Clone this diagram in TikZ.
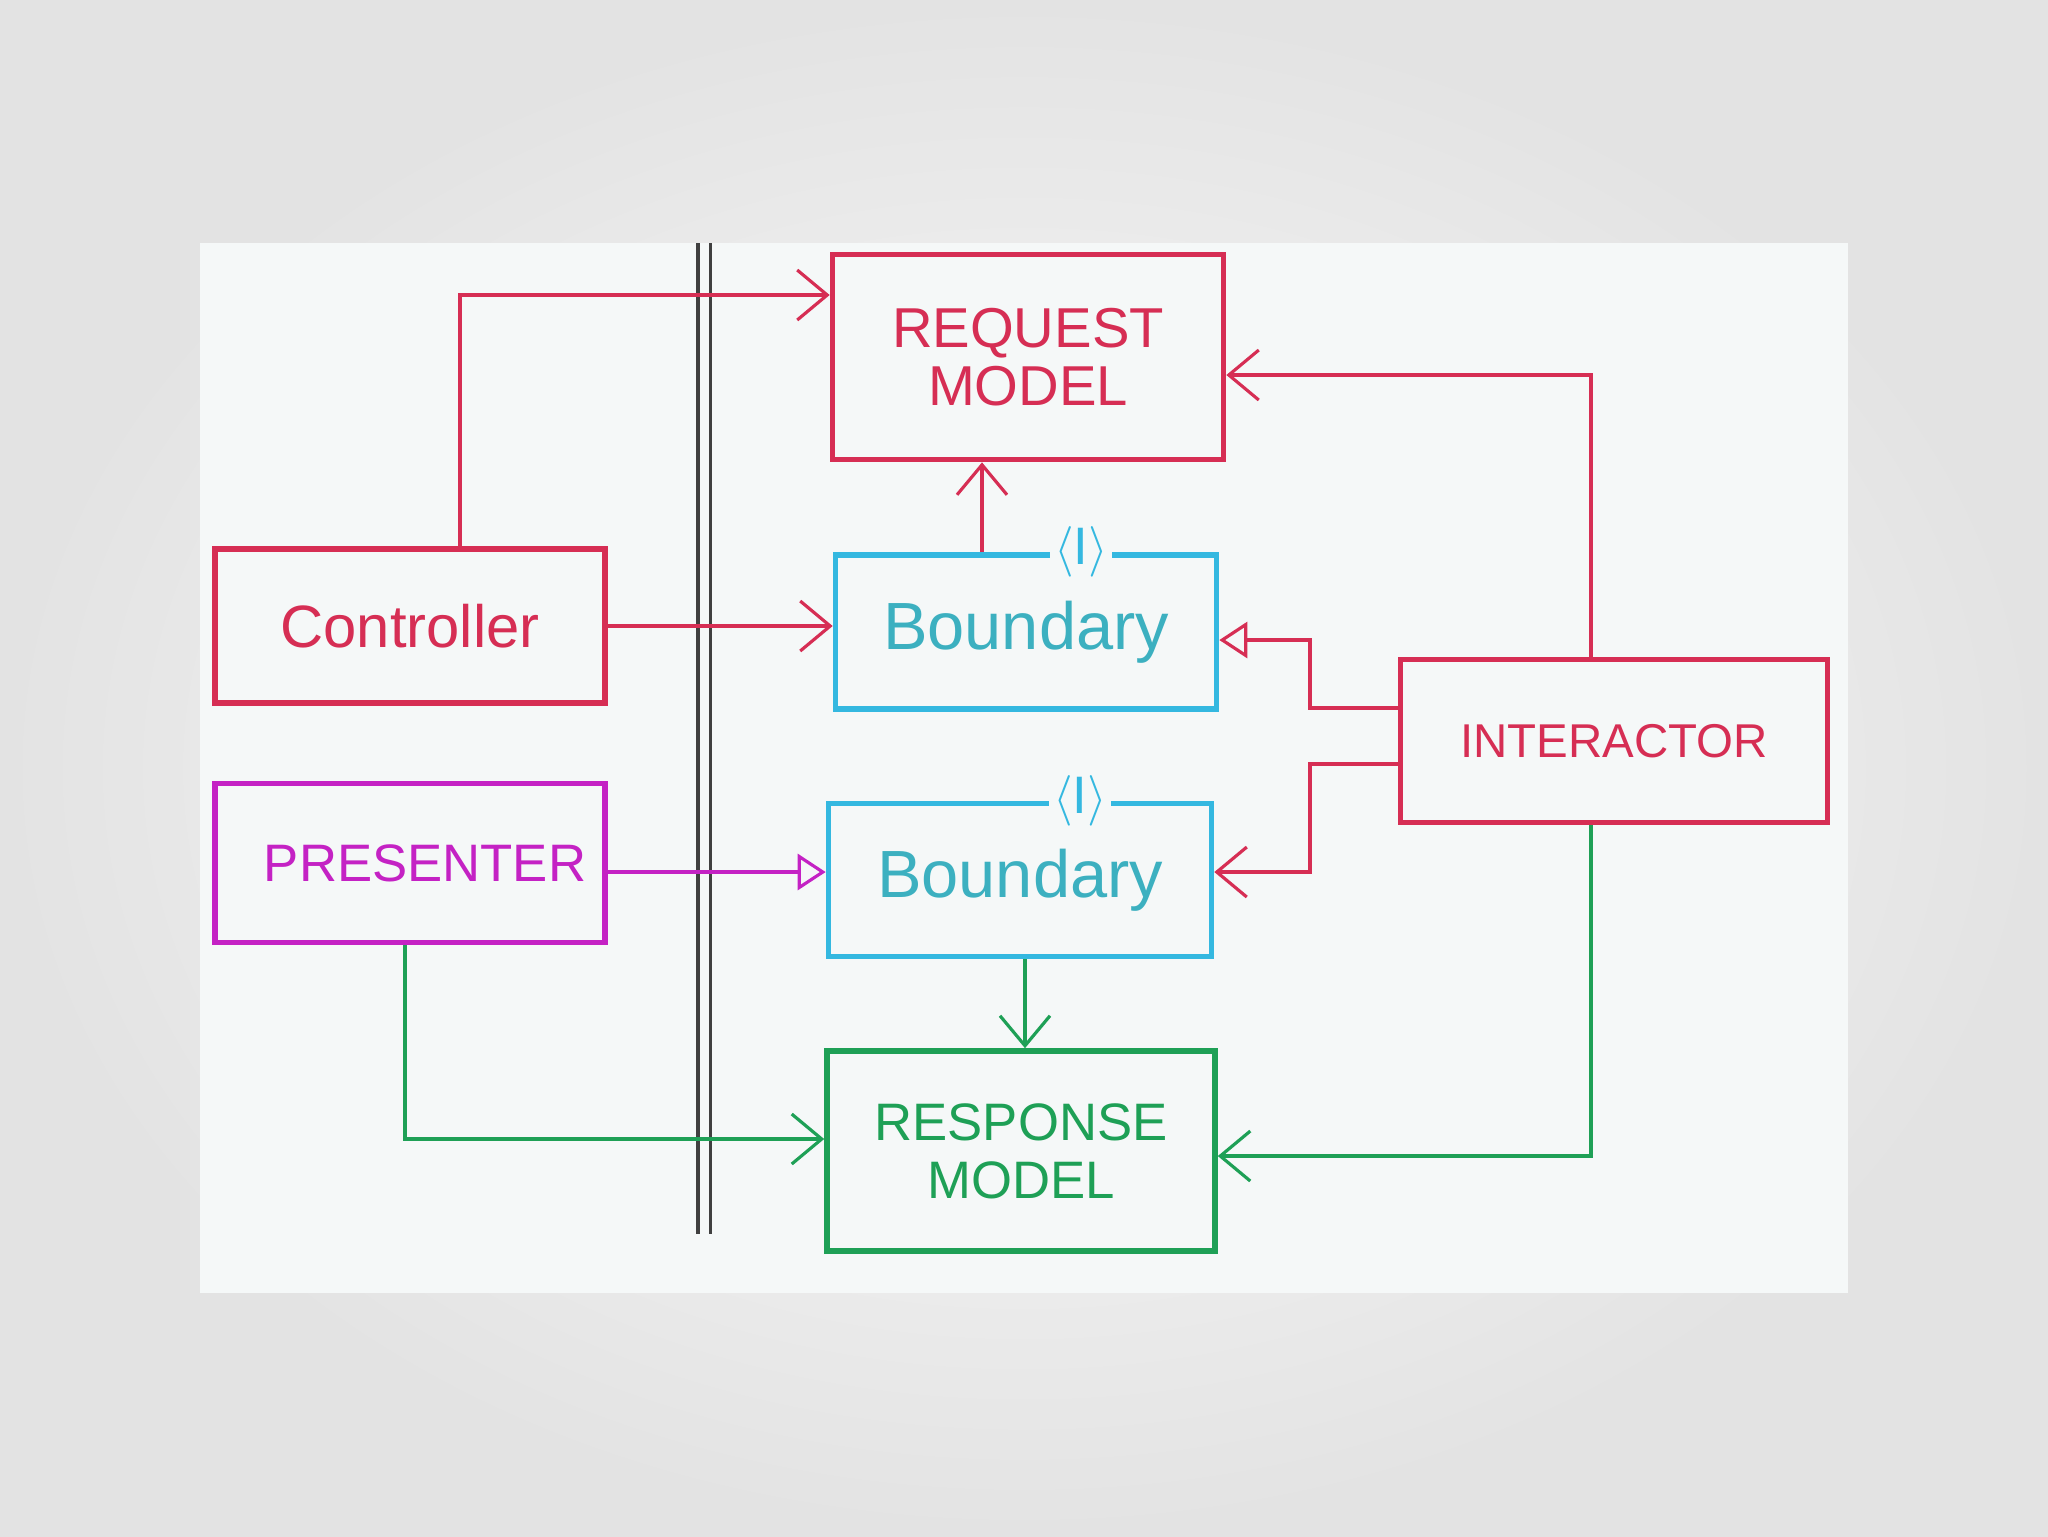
\documentclass[tikz,border=0pt]{standalone}
\usepackage{fontspec}
\setmainfont{Liberation Sans}
\usetikzlibrary{arrows.meta}

\definecolor{reqred}{RGB}{214,46,84}
\definecolor{bndcyan}{RGB}{52,184,224}
\definecolor{bndtext}{RGB}{60,176,192}
\definecolor{presmag}{RGB}{196,34,196}
\definecolor{respgreen}{RGB}{30,160,86}
\definecolor{paper}{RGB}{245,248,248}

\tikzset{
  box/.style={draw, line width=1.6pt, inner sep=0pt, align=center},
  wire/.style={line width=0.9pt},
  uses/.style={wire, -{Straight Barb[length=3mm,width=5mm,line width=0.9pt]}},
  isa/.style={wire, -{Triangle[open,length=2.8mm,width=3.6mm,line width=0.9pt,fill=paper]}},
  iface/.style={fill=paper, text=bndcyan, inner sep=1pt, font=\fontsize{15}{15}\selectfont}
}

\begin{document}
\begin{tikzpicture}[x=0.1mm, y=-0.1mm]
        \useasboundingbox (0,0) rectangle (2048,1536);
        % slide background and the sheet
        \fill[inner color=white!99!black, outer color=white!89!black] (0,0) rectangle (2048,1536);
        \fill[paper] (200,243) rectangle (1848,1293);

        % dividing line (double)
        \draw[line width=0.35mm, draw=black!75, double=paper, double distance=0.9mm] (704,243) -- (704,1234);

        % boxes
        \node[box, draw=reqred, text=reqred, minimum width=39.1mm, minimum height=20.5mm,
              font=\fontsize{16}{16.5}\selectfont] (req) at (1028,357) {REQUEST\\MODEL};
        \node[box, draw=reqred, text=reqred, minimum width=39mm, minimum height=15.4mm,
              font=\fontsize{17}{20}\selectfont] (ctrl) at (410,626) {Controller};
        \node[box, draw=bndcyan, text=bndtext, minimum width=38.1mm, minimum height=15.4mm,
              font=\fontsize{19}{22}\selectfont] (bnd1) at (1026,632) {Boundary};
        \node[box, draw=reqred, text=reqred, minimum width=42.7mm, minimum height=16.3mm,
              font=\fontsize{13.5}{16}\selectfont] (intr) at (1614,741) {INTERACTOR};
        \node[box, draw=presmag, text=presmag, minimum width=39mm, minimum height=15.9mm,
              font=\fontsize{15}{17}\selectfont] (pres) at (410,863) {\hspace*{3mm}PRESENTER};
        \node[box, draw=bndcyan, text=bndtext, minimum width=38.3mm, minimum height=15.3mm,
              font=\fontsize{19}{22}\selectfont] (bnd2) at (1020,880) {Boundary};
        \node[box, draw=respgreen, text=respgreen, minimum width=38.8mm, minimum height=20mm,
              font=\fontsize{15}{16.5}\selectfont] (resp) at (1021,1151) {RESPONSE\\MODEL};

        % interface marks
        \node[iface] (i1) at ([xshift=5.5mm]bnd1.north) {$\langle$I$\rangle$};
        \node[iface] (i2) at ([xshift=6mm]bnd2.north) {$\langle$I$\rangle$};

        % bend points
        \coordinate (k1) at (460,295);
        \coordinate (k2) at (982,0);
        \coordinate (k3) at (1591,375);
        \coordinate (k4) at (1310,708);
        \coordinate (k5) at (1310,640);
        \coordinate (k6) at (1310,764);
        \coordinate (k7) at (1310,872);
        \coordinate (k8) at (405,1139);
        \coordinate (k9) at (1025,0);
        \coordinate (k10) at (1591,1156);

        % red connectors
        \draw[uses, reqred] (k1 |- ctrl.north) |- (req.west |- k1);
        \draw[uses, reqred] (ctrl.east) -- (bnd1.west |- ctrl.east);
        \draw[uses, reqred] (k2 |- bnd1.north) -- (k2 |- req.south);
        \draw[uses, reqred] (k3 |- intr.north) |- (req.east |- k3);
        \draw[isa, reqred] (intr.west |- k4) -| (k5) -- (bnd1.east |- k5);
        \draw[uses, reqred] (intr.west |- k6) -| (k7) -- (bnd2.east |- k7);

        % presenter
        \draw[isa, presmag] (pres.east |- k7) -- (bnd2.west |- k7);

        % green connectors
        \draw[uses, respgreen] (k8 |- pres.south) |- (resp.west |- k8);
        \draw[uses, respgreen] (k9 |- bnd2.south) -- (k9 |- resp.north);
        \draw[uses, respgreen] (k10 |- intr.south) |- (resp.east |- k10);
\end{tikzpicture}
\end{document}
